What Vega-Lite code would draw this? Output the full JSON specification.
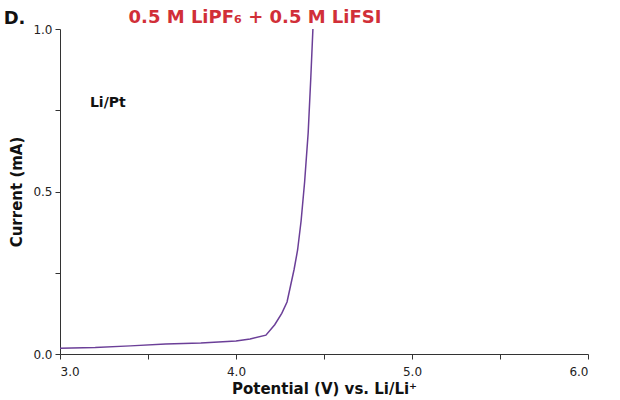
{
  "$schema": "https://vega.github.io/schema/vega-lite/v6.json",
  "autosize": "none",
  "width": 528,
  "height": 325,
  "padding": {"left": 60, "top": 29, "right": 32, "bottom": 46},
  "background": "white",
  "config": {
    "view": {"stroke": null},
    "font": "DejaVu Sans",
    "axis": {
      "grid": false,
      "domainColor": "#333333",
      "tickColor": "#333333",
      "tickSize": 5,
      "labelFont": "DejaVu Sans",
      "labelFontSize": 12,
      "labelColor": "#222222",
      "titleFont": "DejaVu Sans",
      "titleFontSize": 15,
      "titleFontWeight": "bold",
      "titleColor": "#111111"
    }
  },
  "layer": [
    {
      "data": {
        "values": [
          {"v": 3.0, "i": 0.018},
          {"v": 3.2, "i": 0.020},
          {"v": 3.4, "i": 0.025},
          {"v": 3.6, "i": 0.031},
          {"v": 3.8, "i": 0.034},
          {"v": 4.0, "i": 0.040},
          {"v": 4.08, "i": 0.046},
          {"v": 4.17, "i": 0.058},
          {"v": 4.22, "i": 0.09},
          {"v": 4.26, "i": 0.125},
          {"v": 4.29, "i": 0.16},
          {"v": 4.31, "i": 0.21},
          {"v": 4.33, "i": 0.26},
          {"v": 4.35, "i": 0.32},
          {"v": 4.37, "i": 0.41},
          {"v": 4.39, "i": 0.53},
          {"v": 4.41, "i": 0.68},
          {"v": 4.425, "i": 0.85},
          {"v": 4.437, "i": 1.0}
        ]
      },
      "mark": {"type": "line", "color": "#6b3f98", "strokeWidth": 1.5, "clip": true},
      "encoding": {
        "x": {
          "field": "v",
          "type": "quantitative",
          "title": "Potential (V) vs. Li/Li⁺",
          "scale": {"domain": [3, 6], "nice": false, "zero": false},
          "axis": {
            "values": [3, 3.5, 4, 4.5, 5, 5.5, 6],
            "labelExpr": "datum.value % 1 == 0 ? format(datum.value, '.1f') : ''",
            "labelPadding": 7,
            "titlePadding": 4
          }
        },
        "y": {
          "field": "i",
          "type": "quantitative",
          "title": "Current (mA)",
          "scale": {"domain": [0, 1], "nice": false},
          "axis": {
            "values": [0, 0.25, 0.5, 0.75, 1],
            "labelExpr": "(datum.value * 2) % 1 == 0 ? format(datum.value, '.1f') : ''",
            "labelPadding": 3,
            "titlePadding": 8
          }
        }
      }
    },
    {
      "data": {
        "values": [
          {"v": 3.17, "i": 0.76, "label": "Li/Pt", "kind": "note"},
          {"v": 2.68, "i": 1.015, "label": "D.", "kind": "panel"}
        ]
      },
      "mark": {"type": "text", "font": "DejaVu Sans", "fontWeight": "bold", "align": "left", "baseline": "alphabetic", "clip": false, "color": "#111111"},
      "encoding": {
        "x": {"field": "v", "type": "quantitative"},
        "y": {"field": "i", "type": "quantitative"},
        "text": {"field": "label"},
        "size": {"condition": {"test": "datum.kind == 'panel'", "value": 18}, "value": 14}
      }
    },
    {
      "data": {"values": [{"v": 4.108, "i": 1.018, "label": "0.5 M LiPF₆ + 0.5 M LiFSI"}]},
      "mark": {"type": "text", "font": "DejaVu Sans", "fontWeight": "bold", "fontSize": 18, "align": "center", "baseline": "alphabetic", "clip": false, "color": "#d12f38"},
      "encoding": {
        "x": {"field": "v", "type": "quantitative"},
        "y": {"field": "i", "type": "quantitative"},
        "text": {"field": "label"}
      }
    }
  ]
}
